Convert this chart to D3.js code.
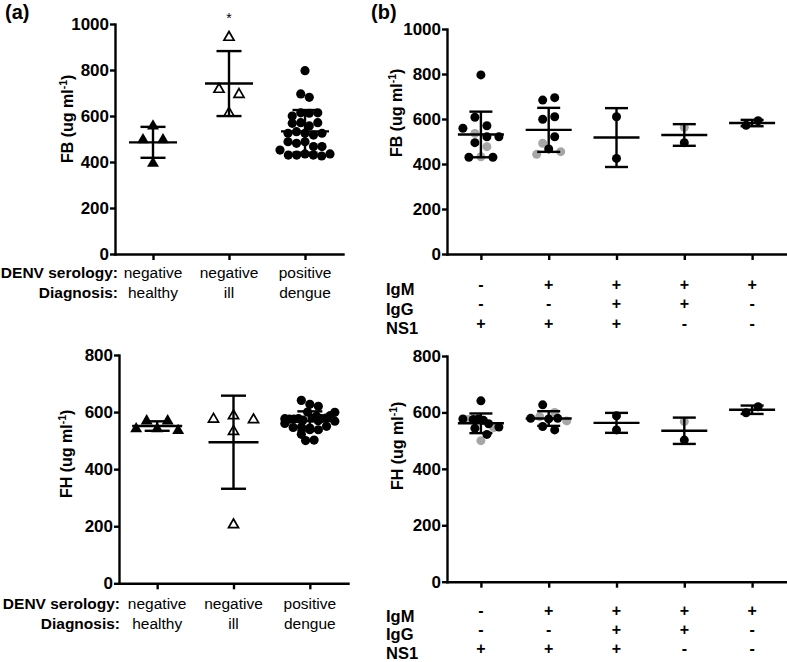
<!DOCTYPE html>
<html><head><meta charset="utf-8">
<script src="https://cdn.jsdelivr.net/npm/d3@7"></script>
<style>
body{margin:0;background:#fff}
svg{display:block}
text{font-family:"Liberation Sans",Arial,Helvetica,sans-serif;fill:#000}
</style>
</head><body>
<svg id="c" width="787" height="662"></svg>
<script>
// ---------------- DATA ----------------
// Panel (a)
const groupsA = ["healthy", "ill", "dengue"];
const serologyA = ["negative", "negative", "positive"];
const diagnosisA = ["healthy", "ill", "dengue"];
const fbHealthy = [556, 496, 496, 394];
const fbIll = [942, 716, 694, 612];
const fbDengue = [797, 696, 681, 600, 614, 612, 614, 568, 571, 557, 571, 525, 532, 525, 517, 525,
                  488, 481, 488, 452, 467, 467, 430, 430, 435, 430, 426, 435];
const fhHealthy = [541, 569, 541, 569, 535];
const fhIll = [575, 587, 532, 573, 205];
// Panel (b)
const groupsB = ["g1", "g2", "g3", "g4", "g5"];
const rowIgM = ["-", "+", "+", "+", "+"];
const rowIgG = ["-", "-", "+", "+", "-"];
const rowNS1 = ["+", "+", "+", "-", "-"];
const fbB1 = [796, 608, 559, 570, 536, 521, 521, 495, 477, 430, 432, 430];
const fbB1Tone = ["k","k","k","k","g","k","k","k","g","k","g","k"];
const fbB2 = [684, 695, 599, 610, 492, 521, 443, 467, 455];
const fbB2Tone = ["k","k","k","k","g","k","g","k","g"];
const fbB3 = [610, 425];
const fbB3Tone = ["k","k"];
const fbB4 = [563, 495];
const fbB4Tone = ["g","k"];
const fbB5 = [572, 592];
const fbB5Tone = ["k","k"];
const fhB1 = [641, 577, 575, 575, 577, 572, 560, 546, 548, 544, 522, 500];
const fhB1Tone = ["k","k","g","k","k","k","k","g","k","k","k","g"];
const fhB2 = [627, 600, 579, 585, 577, 579, 570, 550, 538];
const fhB2Tone = ["k","g","k","g","k","k","g","k","k"];
const fhB3 = [588, 538];
const fhB3Tone = ["k","k"];
const fhB4 = [568, 502];
const fhB4Tone = ["g","k"];
const fhB5 = [599, 620];
const fhB5Tone = ["k","k"];
const ticksFB = [0, 200, 400, 600, 800, 1000];
const ticksFH = [0, 200, 400, 600, 800];

// ---------------- DRAWING ----------------
const svg = d3.select("#c");
const BLACK = "#000", GREY = "#a6a6a6";

function swarm(values, y, cx, o) {
  const items = values.map((v, i) => ({v, i, py: y(v)}));
  const sorted = items.slice().sort((a, b) => a.py - b.py);
  const rows = []; let cur = null;
  for (const it of sorted) {
    if (!cur || it.py - cur[0].py > o.rowH) { cur = [it]; rows.push(cur); }
    else cur.push(it);
  }
  rows.forEach(r => {
    r.sort((a, b) => a.i - b.i);
    const n = r.length;
    const dx = n > 1 ? Math.min(o.dxMax, o.wMax / (n - 1)) : 0;
    r.forEach((it, k) => { it.px = cx + (k - (n - 1) / 2) * dx; });
  });
  return items;
}

function panel(cfg) {
  const y = d3.scaleLinear().domain([0, cfg.max]).range(cfg.yr);
  const x = d3.scalePoint().domain(cfg.cats).range(cfg.xr).padding(0.5);
  const g = svg.append("g");

  const pg = g.append("g");
  cfg.groups.forEach(gr => {
    const items = swarm(gr.vals, y, x(gr.cat), gr.opts);
    items.forEach(it => { it.tone = gr.tones ? gr.tones[it.i] : "k"; });
    const ordered = items.filter(d => d.tone === "g").concat(items.filter(d => d.tone !== "g"));
    ordered.forEach(it => {
      if (gr.marker === "circle") {
        pg.append("circle").attr("cx", it.px).attr("cy", it.py).attr("r", gr.r)
          .attr("fill", it.tone === "g" ? GREY : BLACK);
      } else if (gr.marker === "triFilled") {
        pg.append("path").attr("d", d3.symbol(d3.symbolTriangle, 62)())
          .attr("transform", `translate(${it.px},${it.py})`).attr("fill", BLACK);
      } else {
        pg.append("path").attr("d", d3.symbol(d3.symbolTriangle, 44)())
          .attr("transform", `translate(${it.px},${it.py})`).attr("fill", "#fff")
          .attr("stroke", BLACK).attr("stroke-width", 1.7);
      }
    });
    const m = d3.mean(gr.vals), sd = d3.deviation(gr.vals);
    const cx = x(gr.cat);
    const bg = g.append("g").attr("stroke", BLACK).attr("stroke-width", 2.4).attr("fill", "none");
    bg.append("line").attr("x1", cx).attr("x2", cx).attr("y1", y(m - sd)).attr("y2", y(m + sd));
    [m - sd, m + sd].forEach(v => bg.append("line").attr("x1", cx - cfg.capW).attr("x2", cx + cfg.capW)
      .attr("y1", y(v)).attr("y2", y(v)));
    bg.append("line").attr("x1", cx - cfg.meanW).attr("x2", cx + cfg.meanW).attr("y1", y(m)).attr("y2", y(m));
  });

  const ya = g.append("g").attr("transform", `translate(${cfg.xr[0]},0)`)
    .call(d3.axisLeft(y).tickValues(cfg.ticks).tickFormat(d3.format("d"))
      .tickSize(5).tickSizeOuter(0).tickPadding(1));
  const xa = g.append("g").attr("transform", `translate(0,${cfg.yr[0]})`)
    .call(d3.axisBottom(x).tickSize(6).tickSizeOuter(0).tickFormat(""));
  [ya, xa].forEach(a => {
    a.selectAll("path,line").attr("stroke", BLACK).attr("stroke-width", 2.4);
    a.select(".domain").attr("stroke-linecap", "square");
  });
  ya.selectAll("text").attr("font-size", 17).attr("font-weight", "bold")
    .attr("font-family", '"Liberation Sans",Arial,sans-serif').attr("fill", BLACK);

  const t = g.append("text").attr("transform", `translate(${cfg.titleX},${cfg.titleY}) rotate(-90)`)
    .attr("text-anchor", "start").attr("font-size", 16).attr("font-weight", "bold");
  t.append("tspan").text(cfg.title + " (ug ml");
  t.append("tspan").attr("font-size", 10.5).attr("dy", -6).text("-1");
  t.append("tspan").attr("dy", 6).text(")");
  return {x, y, g};
}

const circA = {rowH: 8, dxMax: 8.5, wMax: 50};
const triA = {rowH: 10, dxMax: 20, wMax: 42};
const circB = {rowH: 9, dxMax: 12, wMax: 36};

const pA1 = panel({
  max: 1000, yr: [254, 24], xr: [115, 343], cats: groupsA, ticks: ticksFB,
  title: "FB", titleX: 72.5, titleY: 163, capW: 12.5, meanW: 24,
  groups: [
    {cat: "healthy", vals: fbHealthy, marker: "triFilled", opts: triA},
    {cat: "ill", vals: fbIll, marker: "triOpen", opts: triA},
    {cat: "dengue", vals: fbDengue, marker: "circle", r: 4.6, opts: circA}
  ]
});
const pA2 = panel({
  max: 800, yr: [583.3, 355], xr: [119, 348], cats: groupsA, ticks: ticksFH,
  title: "FH", titleX: 72, titleY: 498, capW: 12.5, meanW: 25,
  groups: [
    {cat: "healthy", vals: fhHealthy, marker: "triFilled", opts: triA},
    {cat: "ill", vals: fhIll, marker: "triOpen", opts: triA},
    {cat: "dengue", vals: [].concat(fhB1, fhB2, fhB3, fhB4, fhB5), marker: "circle", r: 4.6, opts: circA}
  ]
});
const fbB = [fbB1, fbB2, fbB3, fbB4, fbB5], fbBT = [fbB1Tone, fbB2Tone, fbB3Tone, fbB4Tone, fbB5Tone];
const fhB = [fhB1, fhB2, fhB3, fhB4, fhB5], fhBT = [fhB1Tone, fhB2Tone, fhB3Tone, fhB4Tone, fhB5Tone];
const pB1 = panel({
  max: 1000, yr: [254, 29], xr: [447, 786], cats: groupsB, ticks: ticksFB,
  title: "FB", titleX: 402, titleY: 157, capW: 11.5, meanW: 23,
  groups: groupsB.map((c, i) => ({cat: c, vals: fbB[i], tones: fbBT[i], marker: "circle", r: 4.5, opts: circB}))
});
const pB2 = panel({
  max: 800, yr: [581.7, 356], xr: [447, 786], cats: groupsB, ticks: ticksFH,
  title: "FH", titleX: 403, titleY: 490, capW: 11.5, meanW: 23,
  groups: groupsB.map((c, i) => ({cat: c, vals: fhB[i], tones: fhBT[i], marker: "circle", r: 4.5, opts: circB}))
});

function labelsA(p, right, b1, b2) {
  svg.append("text").attr("x", right).attr("y", b1).attr("text-anchor", "end")
    .attr("font-size", 15.5).attr("font-weight", "bold").text("DENV serology:");
  svg.append("text").attr("x", right).attr("y", b2).attr("text-anchor", "end")
    .attr("font-size", 15.5).attr("font-weight", "bold").text("Diagnosis:");
  groupsA.forEach((c, i) => {
    svg.append("text").attr("x", p.x(c)).attr("y", b1).attr("text-anchor", "middle")
      .attr("font-size", 15.5).text(serologyA[i]);
    svg.append("text").attr("x", p.x(c)).attr("y", b2).attr("text-anchor", "middle")
      .attr("font-size", 15.5).text(diagnosisA[i]);
  });
}
labelsA(pA1, 118, 278.3, 297.7);
labelsA(pA2, 120, 609.3, 629.3);

function labelsB(p, base, step) {
  const rows = [["IgM", rowIgM], ["IgG", rowIgG], ["NS1", rowNS1]];
  rows.forEach(([name, arr], r) => {
    svg.append("text").attr("x", 386).attr("y", base + r * step).attr("font-size", 16.5)
      .attr("font-weight", "bold").text(name);
    groupsB.forEach((c, i) => {
      svg.append("text").attr("x", p.x(c)).attr("y", base - 5.5 + r * step).attr("text-anchor", "middle")
        .attr("font-size", 16).attr("font-weight", "bold").text(arr[i]);
    });
  });
}
labelsB(pB1, 295, 19.5);
labelsB(pB2, 621.5, 18.8);

svg.append("text").attr("x", 5).attr("y", 19).attr("font-size", 20).attr("font-weight", "bold").text("(a)");
svg.append("text").attr("x", 371).attr("y", 19).attr("font-size", 20).attr("font-weight", "bold").text("(b)");
svg.append("text").attr("x", pA1.x("ill")).attr("y", 22.5).attr("text-anchor", "middle").attr("font-size", 14).text("*");
</script>
</body></html>
